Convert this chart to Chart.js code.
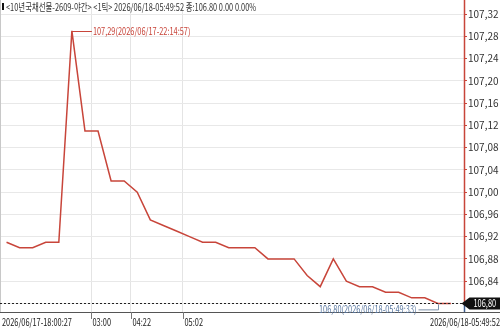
<!DOCTYPE html>
<html>
<head>
<meta charset="utf-8">
<script src="https://cdn.jsdelivr.net/npm/chart.js@4"></script>
<style>
  html, body { margin: 0; padding: 0; background: #fff; }
  #wrap { width: 500px; height: 331px; position: relative; }
</style>
</head>
<body>
<div id="wrap"><canvas id="grafico"></canvas></div>
<script>
// 체결 틱 데이터 (1틱)
const precos = [106.91, 106.90, 106.90, 106.91, 106.91, 107.29, 107.11, 107.11, 107.02, 107.02,
                107.00, 106.95, 106.94, 106.93, 106.92, 106.91, 106.91, 106.90, 106.90, 106.90,
                106.88, 106.88, 106.88, 106.85, 106.83, 106.88, 106.84, 106.83, 106.83, 106.82,
                106.82, 106.81, 106.81, 106.80, 106.80];
const yTicks = [106.80, 106.84, 106.88, 106.92, 106.96, 107.00, 107.04, 107.08, 107.12, 107.16, 107.20, 107.24, 107.28, 107.32];
const xTickPos = [6.5, 9.5, 13.5];
const xTickLabels = ['03:00', '04:22', '05:02'];
const inicioLabel = '2026/06/17-18:00:27';
const fimLabel = '2026/06/18-05:49:52';
const titulo = '<10년국채선물-2609-야간> <1틱> 2026/06/18-05:49:52 종:106.80 0.00 0.00%';
const maxLabel = '107,29(2026/06/17-22:14:57)';
const minLabel = '106,80(2026/06/18-05:49:33)';
const precoAtual = 106.80;

const FAMILIA = '"Noto Sans CJK KR", "DejaVu Sans", sans-serif';
const FONTE = '10px ' + FAMILIA;
const vermelho = '#c8453a';
const azul = '#3b5b8c';
const ESTREITO = 0.74;

function virgula(v) {
    return v.toFixed(2).replace('.', ',');
}

// texto mais estreito, parecido com a fonte bitmap do HTS
function texto(ctx, t, x, y, alinhamento) {
    ctx.save();
    ctx.translate(x, y);
    ctx.scale(ESTREITO, 1);
    ctx.textAlign = alinhamento || 'left';
    ctx.textBaseline = 'middle';
    ctx.fillText(t, 0, 0);
    ctx.restore();
}

// desenha o que o gráfico HTS tem por fora do Chart.js
const extras = {
    id: 'extras',
    afterDraw(chart) {
        const ctx = chart.ctx;
        const a = chart.chartArea;
        const x = chart.scales.x;
        const y = chart.scales.y;
        ctx.save();
        ctx.font = FONTE;

        // borda esquerda
        ctx.strokeStyle = '#c8c8c8';
        ctx.lineWidth = 1;
        ctx.beginPath(); ctx.moveTo(0.5, 0); ctx.lineTo(0.5, a.bottom); ctx.stroke();

        // eixo x
        ctx.strokeStyle = '#555';
        ctx.beginPath(); ctx.moveTo(0, a.bottom + 0.5); ctx.lineTo(500, a.bottom + 0.5); ctx.stroke();

        // linha do preço atual
        const yAtual = Math.round(y.getPixelForValue(precoAtual)) + 0.5;
        ctx.strokeStyle = '#222';
        ctx.setLineDash([2, 2]);
        ctx.beginPath(); ctx.moveTo(a.left, yAtual); ctx.lineTo(a.right, yAtual); ctx.stroke();
        ctx.setLineDash([]);

        // eixo y: vermelho acima, azul abaixo
        const xr = Math.round(a.right) + 0.5;
        ctx.lineWidth = 1.5;
        ctx.strokeStyle = vermelho;
        ctx.beginPath(); ctx.moveTo(xr, 0); ctx.lineTo(xr, yAtual); ctx.stroke();
        ctx.strokeStyle = azul;
        ctx.beginPath(); ctx.moveTo(xr, yAtual); ctx.lineTo(xr, a.bottom); ctx.stroke();
        ctx.lineWidth = 1;

        // caixa do preço atual
        ctx.fillStyle = '#111';
        ctx.beginPath();
        ctx.moveTo(xr - 3, yAtual);
        ctx.lineTo(xr + 5, yAtual - 6);
        ctx.lineTo(500, yAtual - 6);
        ctx.lineTo(500, yAtual + 6);
        ctx.lineTo(xr + 5, yAtual + 6);
        ctx.closePath();
        ctx.fill();
        ctx.fillStyle = '#fff';
        texto(ctx, virgula(precoAtual), xr + 9, yAtual);

        // rótulos do eixo x
        ctx.fillStyle = '#222';
        ctx.strokeStyle = '#777';
        const yl = a.bottom + 10;
        texto(ctx, inicioLabel, 2, yl);
        xTickPos.forEach((p, i) => {
            const px = Math.round(x.getPixelForValue(p)) + 0.5;
            ctx.beginPath(); ctx.moveTo(px, a.bottom); ctx.lineTo(px, a.bottom + 7); ctx.stroke();
            texto(ctx, xTickLabels[i], px + 1, yl);
        });
        texto(ctx, fimLabel, 500, yl, 'right');

        // título
        ctx.fillStyle = '#111';
        ctx.fillRect(2, 3, 2, 7);
        ctx.fillStyle = '#333';
        texto(ctx, titulo, 6, 7);

        // máximo
        const iMax = precos.indexOf(Math.max(...precos));
        const mx = x.getPixelForValue(iMax);
        const my = Math.round(y.getPixelForValue(precos[iMax])) + 0.5;
        ctx.strokeStyle = vermelho;
        ctx.beginPath(); ctx.moveTo(mx, my); ctx.lineTo(mx + 20, my); ctx.stroke();
        ctx.fillStyle = vermelho;
        texto(ctx, maxLabel, mx + 21, my);

        // mínimo
        const iMin = precos.indexOf(Math.min(...precos));
        const nx = Math.round(x.getPixelForValue(iMin)) + 0.5;
        const ny = y.getPixelForValue(precos[iMin]);
        ctx.strokeStyle = '#7a8fa8';
        ctx.beginPath();
        ctx.moveTo(nx, ny + 1); ctx.lineTo(nx, ny + 6.5); ctx.lineTo(nx - 20, ny + 6.5);
        ctx.stroke();
        ctx.fillStyle = '#5a78a0';
        texto(ctx, minLabel, nx - 22, ny + 6, 'right');
        ctx.restore();
    }
};

const canva = document.getElementById('grafico');
new Chart(canva, {
    type: 'line',
    data: {
        datasets: [{
            data: precos.map((v, i) => ({ x: i, y: v })),
            borderColor: vermelho,
            borderWidth: 1.5,
            pointRadius: 0,
            tension: 0,
            fill: false
        }]
    },
    options: {
        responsive: true,
        maintainAspectRatio: false,
        animation: false,
        events: [],
        layout: { padding: 0 },
        plugins: { legend: { display: false }, tooltip: { enabled: false } },
        scales: {
            x: {
                type: 'linear',
                min: -0.5,
                max: 35,
                afterBuildTicks: s => { s.ticks = xTickPos.map(v => ({ value: v })); },
                afterFit: s => { s.height = 19; },
                ticks: { display: false },
                border: { display: false },
                grid: { color: '#e4e4e4', drawTicks: false, lineWidth: 1 }
            },
            y: {
                position: 'right',
                min: 106.7845,
                max: 107.3328,
                afterBuildTicks: s => { s.ticks = yTicks.map(v => ({ value: v })); },
                afterFit: s => { s.width = 36; },
                border: { display: false },
                grid: { color: '#e8e8e8', tickColor: vermelho, tickLength: 3, lineWidth: 1 },
                ticks: {
                    font: { family: FAMILIA, size: 10 },
                    color: '#333',
                    padding: 1,
                    callback: v => virgula(v)
                }
            }
        }
    },
    plugins: [extras]
});
</script>
</body>
</html>
